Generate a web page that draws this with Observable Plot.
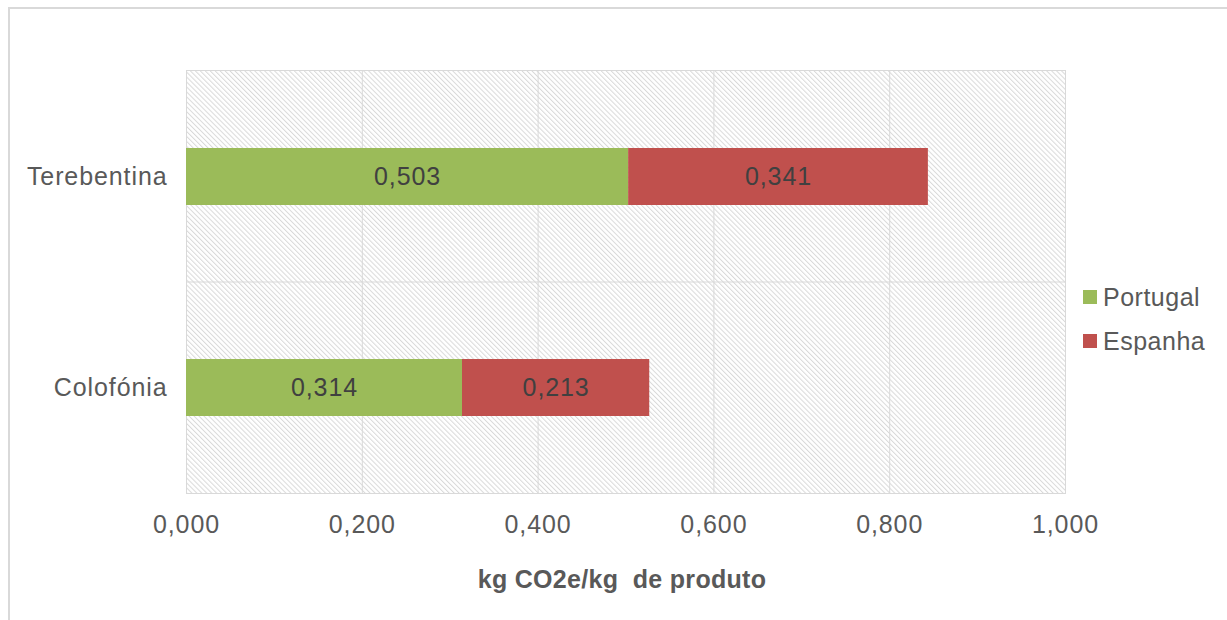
<!DOCTYPE html>
<html>
<head>
<meta charset="utf-8">
<script src="https://cdn.jsdelivr.net/npm/d3@7"></script>
<script src="https://cdn.jsdelivr.net/npm/@observablehq/plot@0.6"></script>
<style>
  html, body { margin: 0; padding: 0; background: #fff; overflow: hidden; }
  #wrap { position: relative; width: 1227px; height: 620px; overflow: hidden; }
  #border { position: absolute; left: 8px; top: 7px; width: 1240px; height: 640px; border: 2px solid #d9d9d9; box-sizing: border-box; }
  #chart { position: absolute; left: 0; top: 0; }
  #legend { position: absolute; left: 1083px; top: 275px; font-family: "Liberation Sans", Arial, sans-serif; font-size: 25px; letter-spacing: 0.5px; color: #595959; }
  .item { display: flex; align-items: center; height: 44px; }
  .sw { width: 14px; height: 14px; margin-right: 6px; }
</style>
</head>
<body>
<div id="wrap">
  <div id="border"></div>
  <div id="chart"></div>
  <div id="legend"></div>
</div>
<script>
const categories = ["Terebentina", "Colofónia"];
const series = ["Portugal", "Espanha"];
const portugal = [0.503, 0.314];
const espanha = [0.341, 0.213];
const xTicks = [0, 0.2, 0.4, 0.6, 0.8, 1.0];
const colors = ["#9bbb59", "#c0504d"];
const xTitle = "kg CO2e/kg  de produto";

const values = [portugal, espanha];
const data = [];
series.forEach((s, si) => categories.forEach((c, ci) => data.push({cat: c, series: s, value: values[si][ci]})));

const fmt = v => d3.format(".3f")(v).replace(".", ",");

const midLine = (index, scales, vals, dims) => {
  const y = scales.y;
  const bw = typeof y.bandwidth === "function" ? y.bandwidth() : 0;
  const ym = (y(categories[0]) + bw + y(categories[1])) / 2;
  const g = d3.create("svg:line")
    .attr("x1", dims.marginLeft).attr("x2", dims.width - dims.marginRight)
    .attr("y1", ym).attr("y2", ym)
    .attr("stroke", "#d9d9d9").attr("stroke-width", 1);
  return g.node();
};

const plot = Plot.plot({
  width: 1227,
  height: 620,
  marginLeft: 186,
  marginRight: 162,
  marginTop: 70,
  marginBottom: 127,
  style: {fontFamily: "'Liberation Sans', Arial, sans-serif", fontSize: "25px", letterSpacing: "0.9px", color: "#595959", background: "transparent", whiteSpace: "pre"},
  x: {domain: [0, 1], ticks: xTicks, tickFormat: fmt},
  y: {domain: categories, paddingInner: 0.73, paddingOuter: 0.365},
  color: {domain: series, range: colors},
  marks: [
    Plot.frame({fill: "url(#hatch)", stroke: null}),
    Plot.gridX(xTicks, {stroke: "#d9d9d9", strokeOpacity: 1, strokeWidth: 1}),
    midLine,
    Plot.frame({stroke: "#d9d9d9", strokeWidth: 1}),
    Plot.barX(data, Plot.stackX({x: "value", y: "cat", fill: "series", order: null})),
    Plot.text(data, Plot.stackX({x: "value", y: "cat", z: "series", order: null, text: d => fmt(d.value), fill: "#404040", fontSize: 25})),
    Plot.axisX({ticks: xTicks, tickFormat: fmt, tickSize: 0, tickPadding: 22, label: null}),
    Plot.axisY({tickSize: 0, tickPadding: 19, label: null}),
    Plot.text([xTitle], {frameAnchor: "bottom", dy: 86, dx: -4, lineAnchor: "middle", fontWeight: "bold", fontSize: 25, fill: "#595959", style: "letter-spacing:0.3px"})
  ]
});

// hatch pattern
const svg = d3.select(plot);
svg.selectAll("text").filter(function() { return this.textContent === xTitle || (this.querySelector && d3.select(this).text() === xTitle); }).style("letter-spacing", "0.3px");
const defs = svg.insert("defs", ":first-child");
const pat = defs.append("pattern")
  .attr("id", "hatch").attr("patternUnits", "userSpaceOnUse")
  .attr("width", 3.5).attr("height", 3.5)
  .attr("patternTransform", "rotate(-45)");
pat.append("rect").attr("width", 3.5).attr("height", 3.5).attr("fill", "#fff");
pat.append("line").attr("x1", 0.5).attr("x2", 0.5).attr("y1", 0).attr("y2", 3.5)
  .attr("stroke", "#d9d9d9").attr("stroke-width", 1);

document.getElementById("chart").appendChild(plot);

const legend = d3.select("#legend");
series.forEach((s, i) => {
  const it = legend.append("div").attr("class", "item");
  it.append("div").attr("class", "sw").style("background", colors[i]);
  it.append("span").text(s);
});
</script>
</body>
</html>
